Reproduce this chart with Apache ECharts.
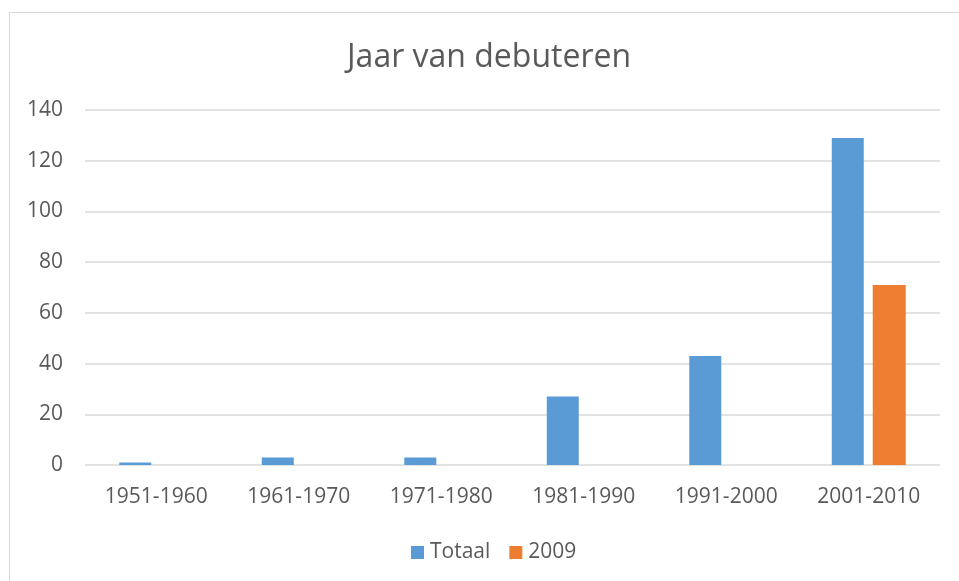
<!DOCTYPE html>
<html>
<head>
<meta charset="utf-8">
<script src="https://cdn.jsdelivr.net/npm/echarts@6/dist/echarts.min.js"></script>
<style>
    html, body { margin: 0; padding: 0; background: #fff; }
    .frame {
        position: absolute;
        left: 9px;
        top: 12px;
        width: 1000px;
        height: 640px;
        border: 1px solid #d9d9d9;
        box-sizing: border-box;
    }
    #chart {
        position: absolute;
        left: 0;
        top: 0;
        width: 959px;
        height: 581px;
    }
</style>
</head>
<body>
<div class="frame"></div>
<div id="chart"></div>
<script>
// categorieën (decennia)
const categories = ['1951-1960', '1961-1970', '1971-1980', '1981-1990', '1991-2000', '2001-2010'];
// aantal debutanten totaal
const totaal = [1, 3, 3, 27, 43, 129];
// debutanten in 2009
const jaar2009 = [0, 0, 0, 0, 0, 71];
// tick labels y-as
const yMin = 0, yMax = 140, yStep = 20;

const textColor = '#595959';
const fontFam = '"Open Sans", "Liberation Sans", sans-serif';

let myChart = echarts.init(document.getElementById('chart'));
myChart.setOption({
    animation: false,
    title: {
        text: 'Jaar van debuteren',
        left: 342,
        top: 37,
        textStyle: {
            color: textColor,
            fontSize: 32,
            fontWeight: 'normal',
            fontFamily: fontFam
        }
    },
    legend: {
        bottom: 13,
        left: 406,
        itemWidth: 13,
        itemHeight: 13,
        itemGap: 19,
        icon: 'rect',
        textStyle: {
            color: textColor,
            fontSize: 21,
            fontFamily: fontFam,
            padding: [0, 0, 0, 1]
        },
        data: ['Totaal', '2009']
    },
    // marges
    grid: {
        left: 85,
        right: 19,
        top: 110,
        bottom: 116
    },
    xAxis: {
        type: 'category',
        data: categories,
        axisLine: { show: false },
        axisTick: { show: false },
        axisLabel: {
            color: textColor,
            fontSize: 21,
            fontFamily: fontFam,
            margin: 22
        }
    },
    yAxis: {
        type: 'value',
        min: yMin,
        max: yMax,
        interval: yStep,
        axisLine: { show: false },
        axisTick: { show: false },
        axisLabel: {
            color: textColor,
            fontSize: 21,
            fontFamily: fontFam,
            margin: 22
        },
        splitLine: {
            lineStyle: { color: '#d9d9d9', width: 1.5 }
        }
    },
    series: [{
        name: 'Totaal',
        type: 'bar',
        data: totaal,
        barWidth: 32,
        barGap: '28%',
        itemStyle: { color: '#5b9bd5' }
    }, {
        name: '2009',
        type: 'bar',
        data: jaar2009,
        barWidth: 33,
        itemStyle: { color: '#ed7d31' }
    }]
});
</script>
</body>
</html>
